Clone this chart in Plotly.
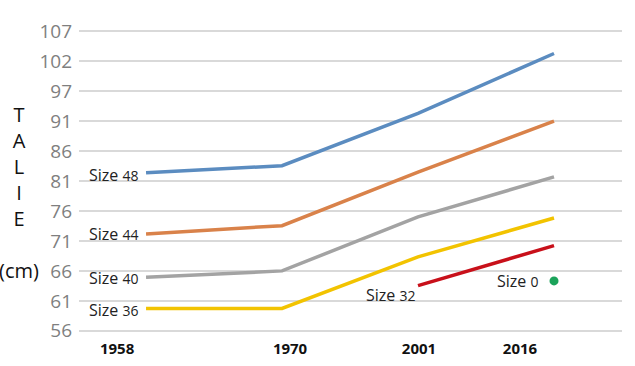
import plotly.graph_objects as go

# ---- data ----
years = ["1958", "1970", "2001", "2016"]
x_idx = [0, 1, 2, 3]
size48 = [82.9, 84.1, 93.0, 103.2]
size44 = [72.5, 73.9, 83.0, 91.7]
size40 = [65.1, 66.2, 75.4, 82.2]
size36 = [59.8, 59.8, 68.6, 75.2]
size32_x = [2, 3]
size32 = [63.7, 70.5]
size0_x = [3]
size0 = [64.5]
y_tick_vals = [56 + 5.1 * i for i in range(11)]
y_tick_text = ["56", "61", "66", "71", "76", "81", "86", "91", "97", "102", "107"]

FONT = "Open Sans"
fig = go.Figure()

series = [
    ("Size 48", "48", size48, "#5B8CC0", -2),
    ("Size 44", "44", size44, "#D9824A", 0),
    ("Size 40", "40", size40, "#A3A3A3", -1),
    ("Size 36", "36", size36, "#F2C300", -1),
]
for name, num, vals, col, ys in series:
    fig.add_trace(go.Scatter(x=x_idx, y=vals, mode="lines", name=name,
                             line=dict(color=col, width=3.5)))
    fig.add_annotation(x=x_idx[0], y=vals[0], xref="x", yref="y",
                       text=f"Size <span style='font-size:14px'>{num}</span>",
                       showarrow=False, xanchor="right", yanchor="middle",
                       xshift=-6, yshift=ys,
                       font=dict(family=FONT, size=16, color="#222222"))

fig.add_trace(go.Scatter(x=size32_x, y=size32, mode="lines", name="Size 32",
                         line=dict(color="#C8101A", width=3.5)))
fig.add_annotation(x=size32_x[0], y=size32[0], xref="x", yref="y",
                   text="Size <span style='font-size:14px'>32</span>",
                   showarrow=False, xanchor="right", yanchor="middle",
                   xshift=-1, yshift=-9,
                   font=dict(family=FONT, size=16, color="#222222"))

fig.add_trace(go.Scatter(x=size0_x, y=size0, mode="markers", name="Size 0",
                         marker=dict(color="#1BA35A", size=9)))
fig.add_annotation(x=size0_x[0], y=size0[0], xref="x", yref="y",
                   text="Size <span style='font-size:14px'>0</span>",
                   showarrow=False, xanchor="right", yanchor="middle",
                   xshift=-14, yshift=0,
                   font=dict(family=FONT, size=16, color="#222222"))

# vertical axis label
fig.add_annotation(x=-0.1105, y=0.463, xref="paper", yref="paper",
                   text="T<br>A<br>L<br>I<br>E<br><br>(cm)",
                   showarrow=False, xanchor="center", yanchor="middle",
                   align="center",
                   font=dict(family=FONT, size=20, color="#111111"))

fig.update_layout(
    width=635, height=366,
    margin=dict(l=79, r=13, t=30, b=34, autoexpand=False),
    paper_bgcolor="white", plot_bgcolor="white",
    showlegend=False,
    xaxis=dict(range=[-0.493, 3.5], showgrid=False, zeroline=False,
               showline=False, ticks="", automargin=False,
               tickvals=[-0.213, 1.059, 2.007, 2.75], ticktext=years,
               tickfont=dict(family=FONT, size=15, color="#111111", weight="bold"),
               ticklabelstandoff=6),
    yaxis=dict(range=[55.8, 107.2], tickvals=y_tick_vals, ticktext=y_tick_text,
               showgrid=True, gridcolor="#D9D9D9", gridwidth=1.5,
               zeroline=False, showline=False, ticks="", automargin=False,
               tickfont=dict(family=FONT, size=19, color="#7F7F7F"),
               ticklabelstandoff=6),
)

fig.write_html("out.html", config={"displayModeBar": False},
               post_script="document.body.style.margin='0';")
